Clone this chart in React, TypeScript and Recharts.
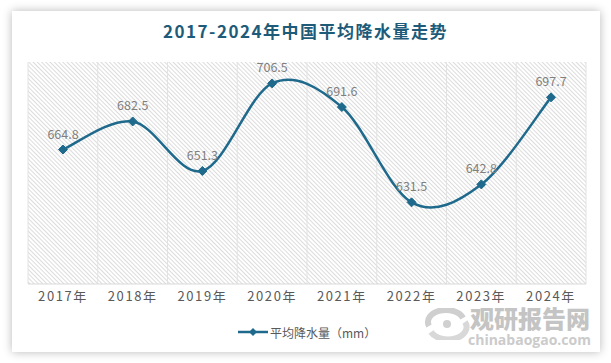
import React from "react";
import { LineChart, Line, XAxis, YAxis, CartesianGrid, LabelList } from "recharts";

const years = ["2017年", "2018年", "2019年", "2020年", "2021年", "2022年", "2023年", "2024年"];
const rainfall = [664.8, 682.5, 651.3, 706.5, 691.6, 631.5, 642.8, 697.7];
const title = "2017-2024年中国平均降水量走势";
const seriesName = "平均降水量（mm）";

const data = years.map((y, i) => ({ year: y, value: rainfall[i] }));

const LINE_COLOR = "#1f6a8c";
const FONT = '"Noto Sans CJK SC", "Noto Sans", sans-serif';

// Excel-like smoothing (uniform Catmull-Rom as cubic Bezier)
function excelCurve(context: any) {
  let pts: number[][] = [];
  return {
    areaStart() {},
    areaEnd() {},
    lineStart() {
      pts = [];
    },
    point(x: number, y: number) {
      pts.push([+x, +y]);
    },
    lineEnd() {
      const n = pts.length;
      if (!n) return;
      context.moveTo(pts[0][0], pts[0][1]);
      for (let i = 0; i < n - 1; i++) {
        const p0 = pts[Math.max(i - 1, 0)];
        const p1 = pts[i];
        const p2 = pts[i + 1];
        const p3 = pts[Math.min(i + 2, n - 1)];
        context.bezierCurveTo(
          p1[0] + (p2[0] - p0[0]) / 6,
          p1[1] + (p2[1] - p0[1]) / 6,
          p2[0] - (p3[0] - p1[0]) / 6,
          p2[1] - (p3[1] - p1[1]) / 6,
          p2[0],
          p2[1]
        );
      }
    },
  };
}

const Diamond = (props: any) => {
  const { cx, cy } = props;
  if (cx == null || cy == null) return null;
  const r = 4.5;
  return (
    <polygon
      points={`${cx},${cy - r} ${cx + r},${cy} ${cx},${cy + r} ${cx - r},${cy}`}
      fill={LINE_COLOR}
      stroke={LINE_COLOR}
      strokeWidth={1}
    />
  );
};

export default function App() {
  const n = years.length;
  return (
    <div style={{ position: "absolute", left: 0, top: 0, width: 611, height: 363, background: "#ffffff", overflow: "hidden", fontFamily: FONT }}>
      <svg width={0} height={0} style={{ position: "absolute" }}>
        <defs>
          <pattern id="hatch" width={3} height={3} patternUnits="userSpaceOnUse" patternTransform="rotate(-45)">
            <rect width={3} height={3} fill="#ffffff" />
            <line x1={0.5} y1={0} x2={0.5} y2={3} stroke="#dcdcdc" strokeWidth={1} />
          </pattern>
        </defs>
      </svg>
      <div
        style={{
          position: "absolute",
          left: 12,
          top: 11,
          width: 588,
          height: 341,
          background: "#ffffff",
          boxShadow: "0 0 9px rgba(0,0,0,0.28)",
        }}
      />
      <div
        style={{
          position: "absolute",
          left: 0,
          top: 20,
          width: 611,
          textAlign: "center",
          fontSize: 17,
          fontWeight: 700,
          letterSpacing: 1.5,
          color: "#1d5b78",
          lineHeight: "22px",
        }}
      >
        {title}
      </div>
      <div style={{ position: "absolute", left: 0, top: 0 }}>
        <LineChart width={611} height={363} data={data} margin={{ top: 62, right: 25, left: 28, bottom: 49 }}>
          <CartesianGrid
            horizontal={false}
            fill="url(#hatch)"
            stroke="#e2e2e2"
            verticalCoordinatesGenerator={(args: any) => {
              const off = args.offset;
              return Array.from({ length: n + 1 }, (_, k) => off.left + (k * off.width) / n);
            }}
          />
          <XAxis
            dataKey="year"
            padding={{ left: 35, right: 35 }}
            axisLine={{ stroke: "#d9d9d9" }}
            tickLine={false}
            height={30}
            interval={0}
            tick={{ fill: "#595959", fontSize: 13, letterSpacing: 1.6, fontFamily: FONT }}
          />
          <YAxis hide domain={[580, 720]} />
          <Line
            dataKey="value"
            type={excelCurve as any}
            stroke={LINE_COLOR}
            strokeWidth={2.5}
            dot={<Diamond />}
            activeDot={false}
            isAnimationActive={false}
          >
            <LabelList dataKey="value" position="top" offset={11} fill="#7f7f7f" fontSize={12.5} fontFamily={FONT} />
          </Line>
        </LineChart>
      </div>
      {/* Legend */}
      <div style={{ position: "absolute", left: 238, top: 323, height: 18, display: "flex", alignItems: "center" }}>
        <svg width={31} height={18}>
          <line x1={0} y1={9} x2={30} y2={9} stroke={LINE_COLOR} strokeWidth={2.5} />
          <polygon points="15,5 19,9 15,13 11,9" fill={LINE_COLOR} />
        </svg>
        <span style={{ fontSize: 12, color: "#595959", marginLeft: 1, whiteSpace: "nowrap" }}>{seriesName}</span>
      </div>
      {/* Watermark */}
      <svg width={48} height={32} style={{ position: "absolute", left: 423, top: 308 }}>
        <path d="M6,18 A18,12 0 0 1 40,10" fill="none" stroke="#cfcfcf" strokeWidth={6} />
        <path d="M42,14 A18,12 0 0 1 8,24" fill="none" stroke="#d8d8d8" strokeWidth={6} />
        <circle cx={24} cy={16} r={4} fill="#d0d0d0" />
      </svg>
      <div style={{ position: "absolute", left: 470, top: 303, fontSize: 24, fontWeight: 900, color: "#c4c4c4", letterSpacing: 0, whiteSpace: "nowrap", lineHeight: "30px" }}>
        观研报告网
      </div>
      <div style={{ position: "absolute", left: 468, top: 331, fontSize: 14, fontWeight: 700, color: "#cbcbcb", whiteSpace: "nowrap", lineHeight: "18px", fontFamily: '"Open Sans", sans-serif' }}>
        chinabaogao.com
      </div>
    </div>
  );
}
